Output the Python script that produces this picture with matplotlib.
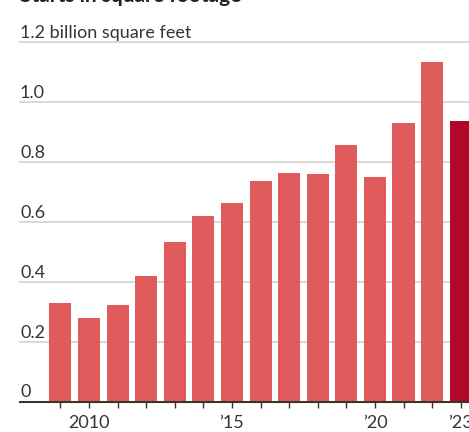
import matplotlib
matplotlib.use("Agg")
import matplotlib.pyplot as plt

years = [2009, 2010, 2011, 2012, 2013, 2014, 2015, 2016, 2017, 2018, 2019, 2020, 2021, 2022, 2023]
values = [0.331, 0.279, 0.324, 0.421, 0.534, 0.621, 0.662, 0.738, 0.762, 0.759, 0.858, 0.749, 0.931, 1.132, 0.937]
xtick_years = [2010, 2015, 2020, 2023]
xtick_labels = ["2010", "\u201915", "\u201920", "\u201923"]
ytick_vals = [0, 0.2, 0.4, 0.6, 0.8, 1.0, 1.2]
ytick_labels = ["0", "0.2", "0.4", "0.6", "0.8", "1.0", "1.2 billion square feet"]
title = "Starts in square footage"

plt.rcParams["font.family"] = ["Lato", "DejaVu Sans"]

TEXT = "#3a332e"
BAR = "#e05c5c"
LAST = "#b0082a"
GRID = "#d4d4d4"

W, H = 469, 432
fig = plt.figure(figsize=(W / 100, H / 100), dpi=100)
ax = fig.add_axes([20 / W, 30 / H, 1 - 20 / W, 360 / H])

colors = [BAR] * (len(years) - 1) + [LAST]
ax.bar(years, values, width=0.77, color=colors, zorder=3)

ax.set_xlim(2007.59, 2023.29)
ax.set_ylim(0, 1.2)

for v, lab in zip(ytick_vals, ytick_labels):
    if v > 0:
        ax.axhline(v, color=GRID, lw=1.3, zorder=1, clip_on=False)
    ax.text(0, v + (0.018 if v == 0 else 0.015), lab, transform=ax.get_yaxis_transform(),
            ha="left", va="baseline", fontsize=13, color=TEXT)

ax.set_yticks([])
ax.set_xticks(years, minor=True)
ax.set_xticks(xtick_years)
ax.set_xticklabels(xtick_labels, fontsize=13, color=TEXT)
ax.tick_params(axis="x", which="both", length=4, width=1, color=TEXT, pad=5.5, direction="out")
for s in ["top", "right", "left"]:
    ax.spines[s].set_visible(False)
ax.spines["bottom"].set_color(TEXT)
ax.spines["bottom"].set_linewidth(1.5)
ax.spines["bottom"].set_zorder(4)

fig.text(20 / W, 1 - 1.5 / H, title, ha="left", va="baseline", fontsize=15,
         fontweight="bold", color="#222222")

fig.savefig("out.png", dpi=100)
